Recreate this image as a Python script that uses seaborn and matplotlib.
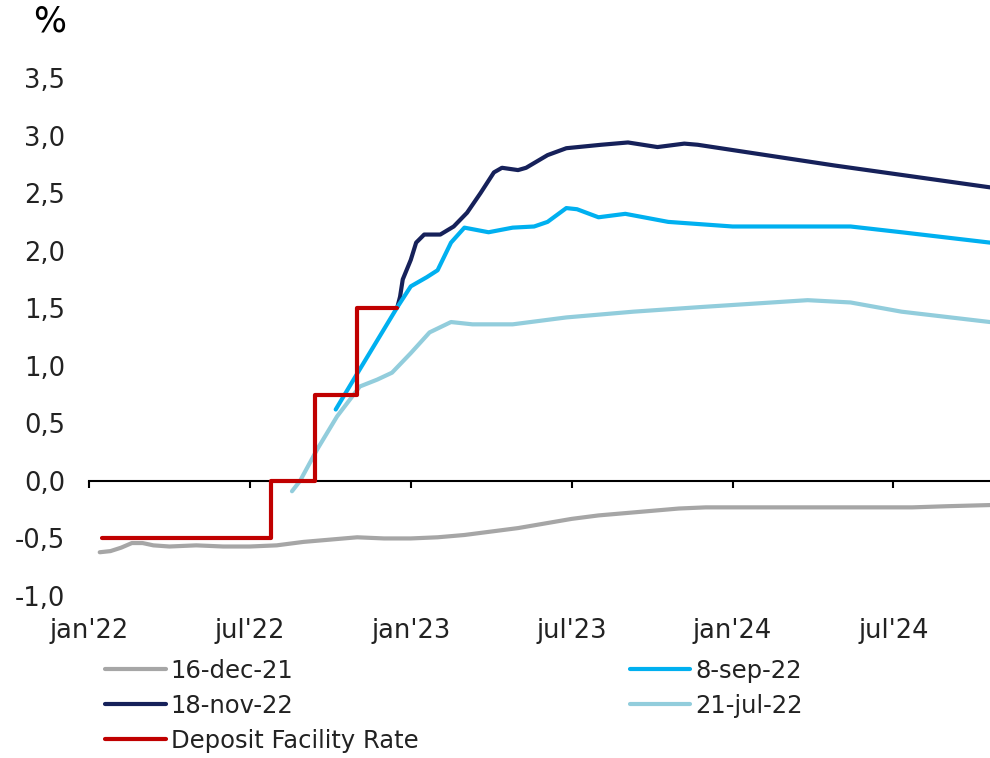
import numpy as np
import pandas as pd
import matplotlib
matplotlib.use('Agg')
import matplotlib.pyplot as plt
import seaborn as sns

# x values are months since jan'22
gray_x = [0.4, 0.8, 1.2, 1.6, 2.0, 2.4, 3, 4, 5, 6, 7, 8, 9, 10, 11, 12, 13, 14, 15,
          16, 17, 18, 19, 20, 21, 22, 23, 25, 27, 29, 30.7, 32, 33.6]
gray_y = [-0.62, -0.61, -0.58, -0.54, -0.54, -0.56, -0.57, -0.56, -0.57, -0.57, -0.56,
          -0.53, -0.51, -0.49, -0.50, -0.50, -0.49, -0.47, -0.44, -0.41, -0.37, -0.33,
          -0.30, -0.28, -0.26, -0.24, -0.23, -0.23, -0.23, -0.23, -0.23, -0.22, -0.21]

jul_x = [7.57, 7.87, 8.5, 9.25, 10.1, 10.75, 11.3, 12.0, 12.7, 13.5, 14.3, 15.8, 17.8,
         20.3, 22.8, 26.8, 28.4, 30.3, 33.6]
jul_y = [-0.09, 0.0, 0.27, 0.56, 0.82, 0.88, 0.94, 1.11, 1.29, 1.38, 1.36, 1.36, 1.42,
         1.47, 1.51, 1.57, 1.55, 1.47, 1.38]

sep_x = [9.2, 10.1, 11.5, 12.0, 12.6, 13.0, 13.5, 14.0, 14.9, 15.8, 16.6, 17.1, 17.8,
         18.2, 19.0, 20.0, 21.6, 24.0, 28.4, 30.3, 33.6]
sep_y = [0.62, 0.97, 1.51, 1.69, 1.77, 1.83, 2.07, 2.20, 2.16, 2.20, 2.21, 2.25, 2.37,
         2.36, 2.29, 2.32, 2.25, 2.21, 2.21, 2.16, 2.07]

nov_x = [11.5, 11.6, 11.7, 12.0, 12.2, 12.5, 13.1, 13.6, 14.1, 14.6, 15.1, 15.4, 16.0,
         16.3, 17.1, 17.8, 19.1, 20.1, 21.2, 22.2, 22.7, 27.8, 33.6]
nov_y = [1.51, 1.60, 1.75, 1.92, 2.07, 2.14, 2.14, 2.21, 2.33, 2.50, 2.68, 2.72, 2.70,
         2.72, 2.83, 2.89, 2.92, 2.94, 2.90, 2.93, 2.92, 2.74, 2.55]

dfr_x = [0.48, 6.8, 8.43, 10.0, 11.5]
dfr_y = [-0.5, 0.0, 0.75, 1.5, 1.5]

tick_pos = [0, 6, 12, 18, 24, 30]
tick_labels = ["jan'22", "jul'22", "jan'23", "jul'23", "jan'24", "jul'24"]
y_ticks = [-1.0, -0.5, 0.0, 0.5, 1.0, 1.5, 2.0, 2.5, 3.0, 3.5]

sns.set_style('white')
plt.rcParams['font.family'] = ['DejaVu Sans']

fig = plt.figure(figsize=(9.9, 7.58), dpi=100)
ax = fig.add_axes([89 / 990, 1 - 596 / 758, (990 - 89) / 990, (596 - 78) / 758])

lw = 3.0
sns.lineplot(x=gray_x, y=gray_y, ax=ax, color='#A6A6A6', lw=lw, label='16-dec-21')
sns.lineplot(x=nov_x, y=nov_y, ax=ax, color='#16215A', lw=lw, label='18-nov-22')
sns.lineplot(x=dfr_x, y=dfr_y, ax=ax, color='#C00000', lw=lw, drawstyle='steps-post',
             label='Deposit Facility Rate', zorder=5)
sns.lineplot(x=sep_x, y=sep_y, ax=ax, color='#00B0F0', lw=lw, label='8-sep-22', zorder=3)
sns.lineplot(x=jul_x, y=jul_y, ax=ax, color='#92CDDC', lw=lw, label='21-jul-22', zorder=2)

ax.set_xlim(0, 33.6)
ax.set_ylim(-1.0, 3.5)
ax.set_yticks(y_ticks)
ax.set_yticklabels([f'{v:.1f}'.replace('.', ',') for v in y_ticks])
ax.tick_params(axis='y', length=0, pad=17, labelsize=18.5, labelcolor='#222222')

for s in ['left', 'right', 'top']:
    ax.spines[s].set_visible(False)
ax.spines['bottom'].set_position(('data', 0))
ax.spines['bottom'].set_color('black')
ax.spines['bottom'].set_linewidth(1.5)
ax.set_xticks(tick_pos)
ax.tick_params(axis='x', direction='out', length=5, width=1.5, color='black',
               labelbottom=False, bottom=True)

sec = ax.secondary_xaxis(0)
sec.spines['bottom'].set_visible(False)
sec.set_xticks(tick_pos)
sec.set_xticklabels(tick_labels)
sec.tick_params(length=0, pad=16, labelsize=18.5, labelcolor='#222222')

ax.set_xlabel('')
ax.set_ylabel('')
ax.grid(False)

fig.text(33 / 990, 1 - 22 / 758, '%', fontsize=25, ha='left', va='center', color='black')

handles, labels = ax.get_legend_handles_labels()
ax.legend(handles, labels, ncol=2, frameon=False, loc='upper left',
          bbox_to_anchor=(105 / 990, 1 - 659 / 758), bbox_transform=fig.transFigure,
          fontsize=17.5, handlelength=2.5, handletextpad=0.2, columnspacing=8.7,
          labelspacing=0.45, borderpad=0, borderaxespad=0, labelcolor='#222222')

fig.savefig('out.png', dpi=100)
